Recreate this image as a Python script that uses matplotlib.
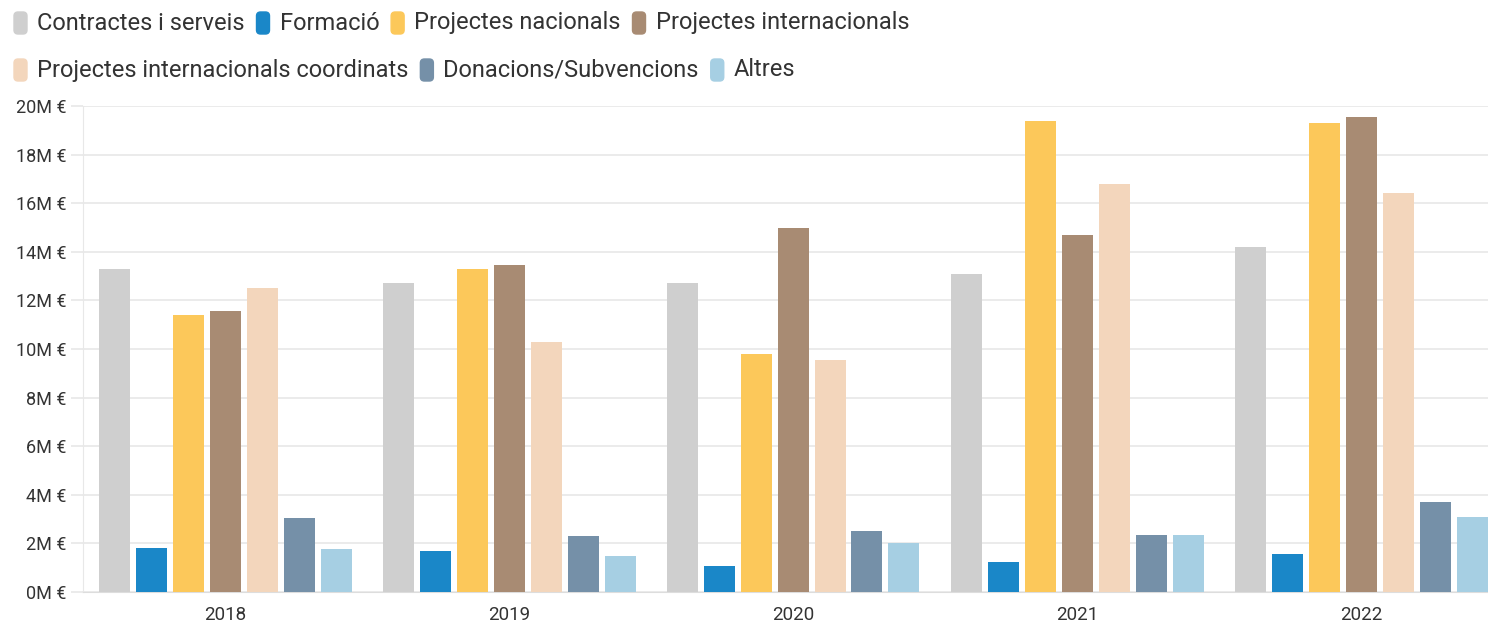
import matplotlib
matplotlib.use("Agg")
import matplotlib.pyplot as plt
import numpy as np
from matplotlib.patches import FancyBboxPatch
from matplotlib.transforms import IdentityTransform

plt.rcParams['font.family'] = ['Roboto', 'DejaVu Sans']

years = ["2018", "2019", "2020", "2021", "2022"]
series = ["Contractes i serveis", "Formació", "Projectes nacionals",
          "Projectes internacionals", "Projectes internacionals coordinats",
          "Donacions/Subvencions", "Altres"]
colors = ["#cfcfcf", "#1a87c8", "#fcc85a", "#a88b73", "#f3d6bc", "#7590a8", "#a6cfe3"]

# values in millions of euros
contractes = [13.3, 12.7, 12.7, 13.1, 14.2]
formacio = [1.8, 1.7, 1.07, 1.22, 1.55]
nacionals = [11.4, 13.3, 9.8, 19.4, 19.3]
internacionals = [11.55, 13.45, 15.0, 14.7, 19.55]
coordinats = [12.5, 10.3, 9.55, 16.8, 16.4]
donacions = [3.05, 2.3, 2.53, 2.33, 3.71]
altres = [1.78, 1.5, 2.0, 2.36, 3.09]
values = [contractes, formacio, nacionals, internacionals, coordinats, donacions, altres]

W, H = 1488, 622
fig = plt.figure(figsize=(W / 100, H / 100), dpi=100)
ax = fig.add_axes([83 / W, (H - 592) / H, (W - 83) / W, (592 - 106) / H])

x = np.arange(len(years))
pitch = 37 / 284
width = 31 / 284
for i, (vals, c, name) in enumerate(zip(values, colors, series)):
    ax.bar(x + (i - 3) * pitch, vals, width=width, color=c, label=name, zorder=3)

ax.set_ylim(0, 20)
ax.set_xlim(-0.5, 4.5 - 15 / 284)
ax.set_yticks(range(0, 21, 2))
ax.set_yticklabels([f"{v}M €" for v in range(0, 21, 2)])
ax.set_xticks(x)
ax.set_xticklabels(years)
ax.grid(axis='y', color='#e8e8e8', linewidth=1.2, zorder=0)
ax.tick_params(axis='y', length=9, color='#e8e8e8', width=1.2, labelsize=13, labelcolor='#333333', pad=3)
ax.tick_params(axis='x', length=0, labelsize=13.5, labelcolor='#333333', pad=10)
for s in ['top', 'right']:
    ax.spines[s].set_visible(False)
ax.spines['left'].set_color('#e8e8e8')
ax.spines['bottom'].set_color('#dddddd')

# legend, drawn as flowing rows
rows = [[0, 1, 2, 3], [4, 5, 6]]
row_y = [23, 70]
fig.canvas.draw()
renderer = fig.canvas.get_renderer()
for row, yimg in zip(rows, row_y):
    xpos = 14
    for idx in row:
        p = FancyBboxPatch((xpos + 3, H - yimg - 8), 7, 16,
                           boxstyle="round,pad=3,rounding_size=4",
                           transform=IdentityTransform(), color=colors[idx])
        fig.add_artist(p)
        t = fig.text((xpos + 23) / W, (H - yimg) / H, series[idx], fontsize=17,
                     color='#333333', va='center', ha='left')
        bb = t.get_window_extent(renderer)
        xpos = bb.x1 + 12

fig.savefig("out.png", dpi=100)
